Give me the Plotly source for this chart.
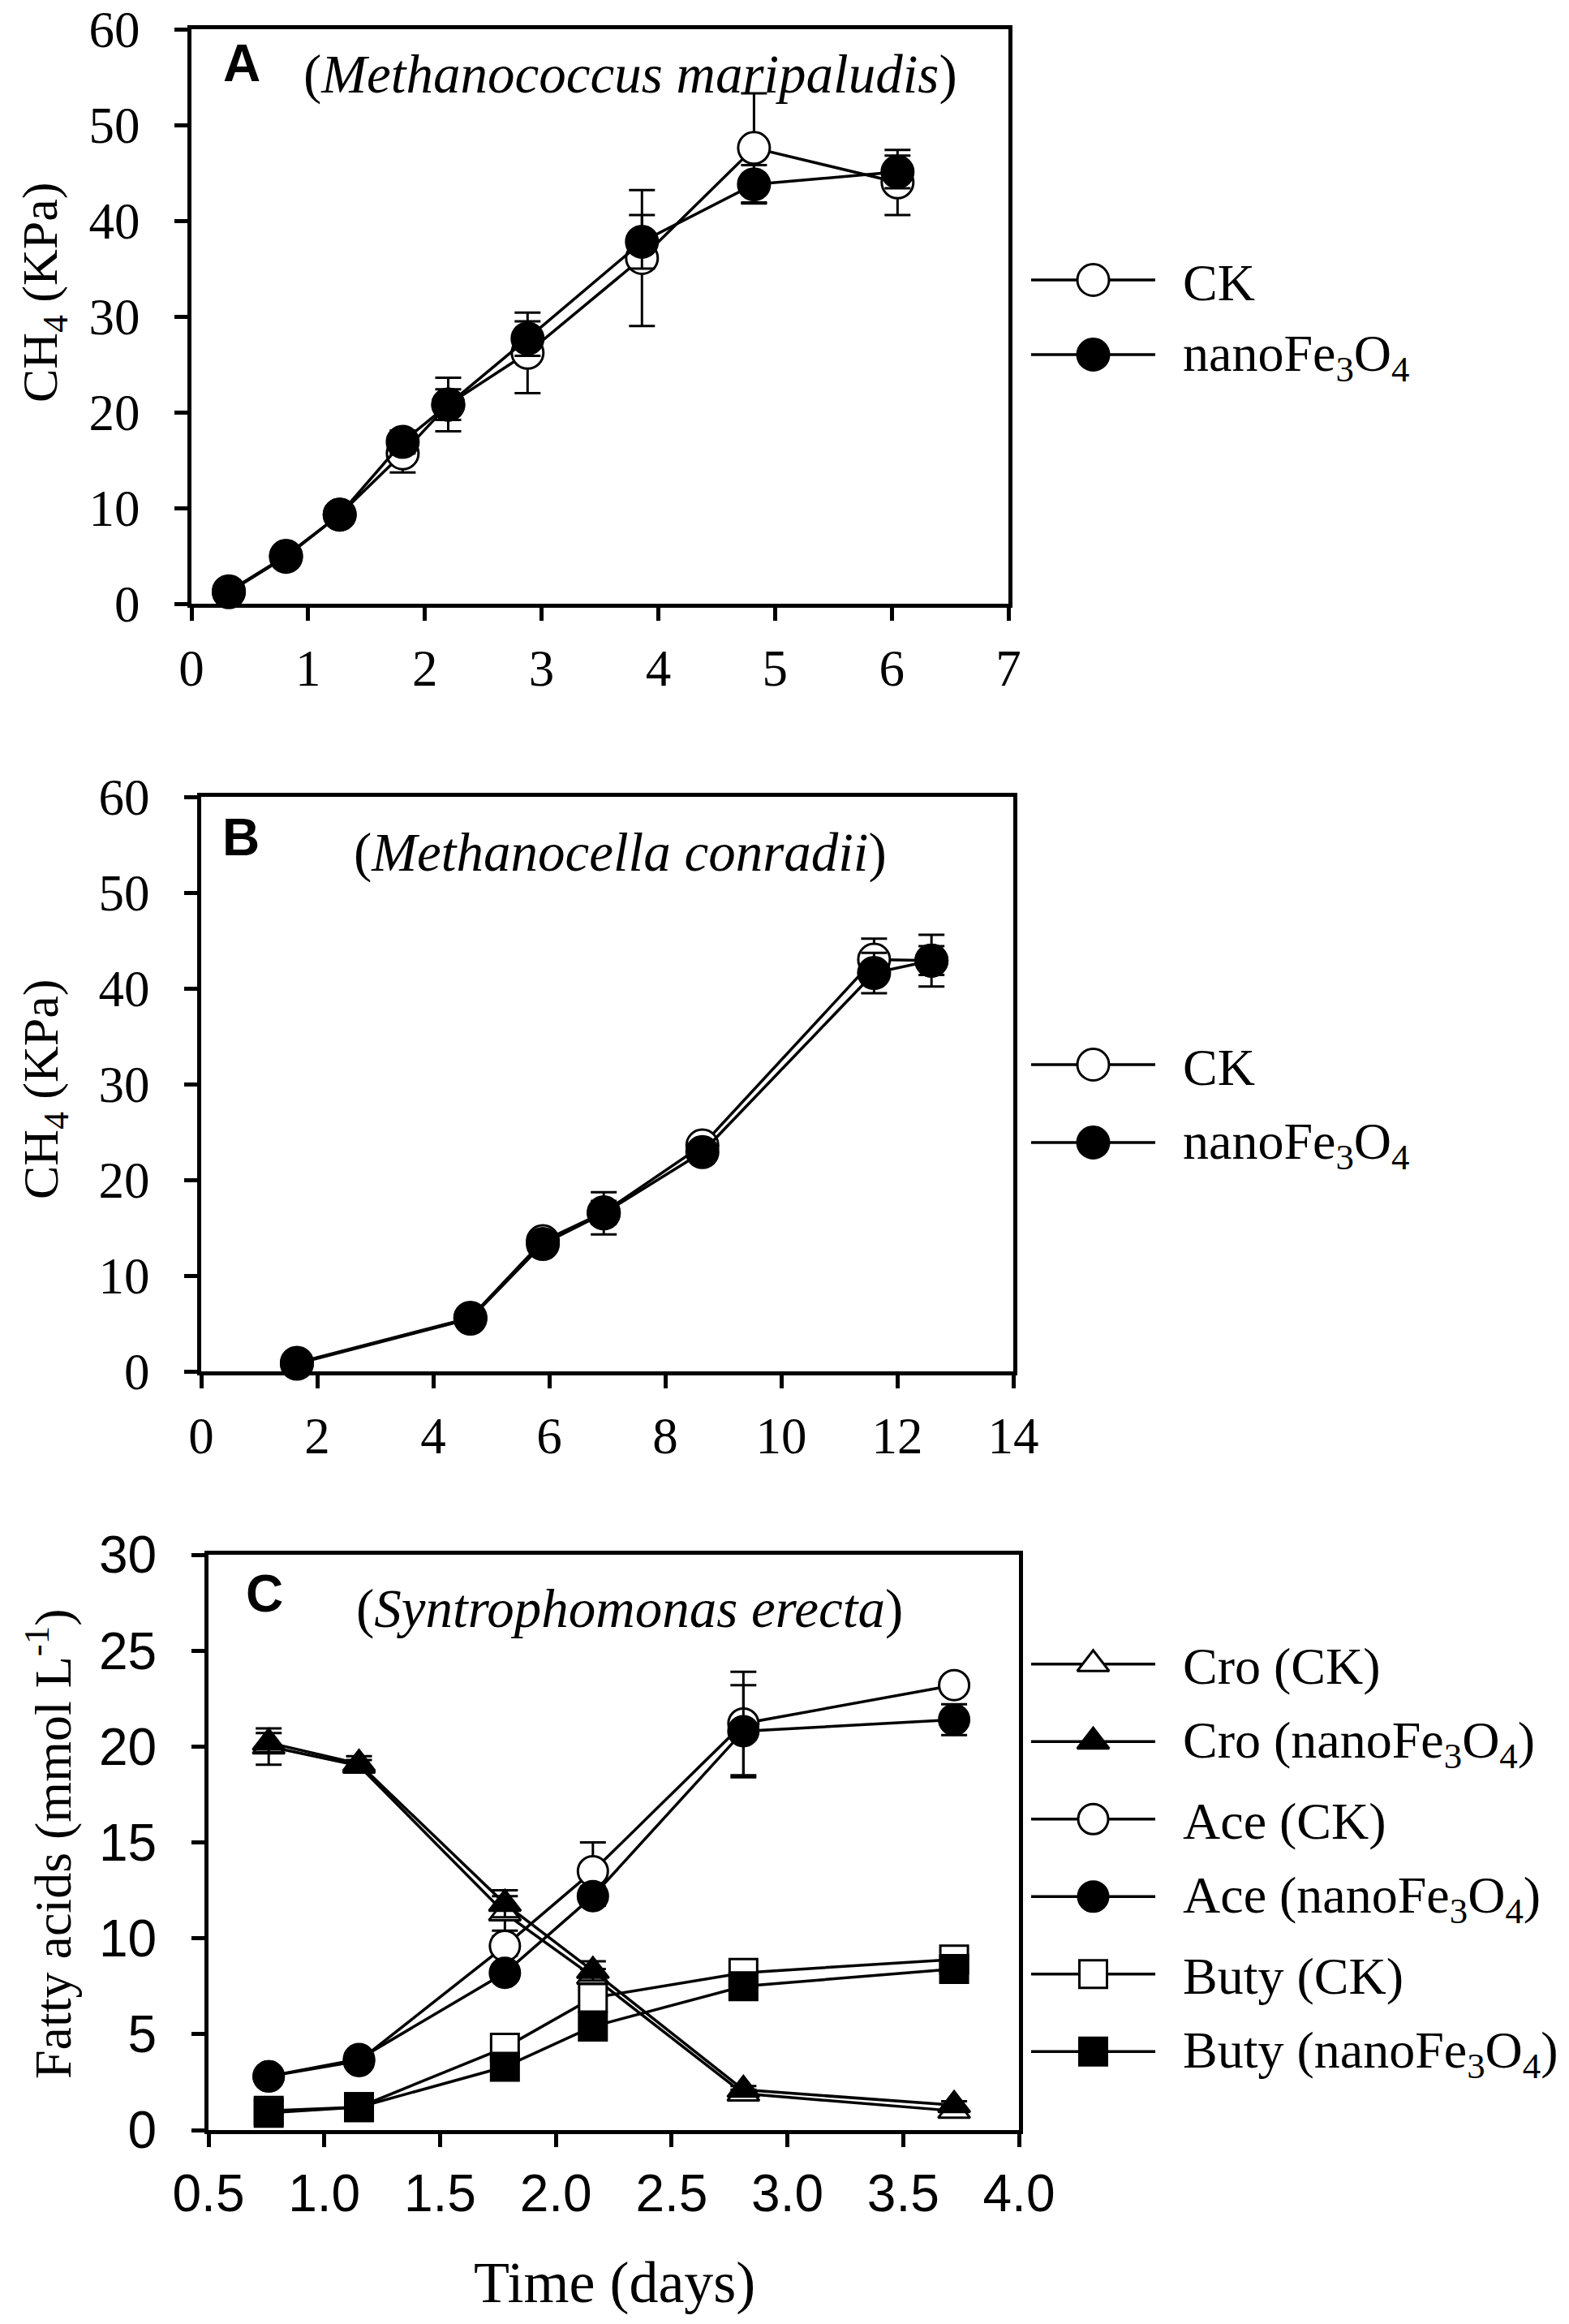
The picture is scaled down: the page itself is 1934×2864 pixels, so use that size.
import plotly.graph_objects as go

W, H = 1934, 2864
SERIF = "Liberation Serif"
SANS = "Liberation Sans"
NANO = "nanoFe<sub>3</sub>O<sub>4</sub>"

# panel A, Methanococcus maripaludis, CH4 (KPa)
a_days = [0.32, 0.81, 1.27, 1.81, 2.20, 2.88, 3.86, 4.82, 6.05]
a_ck = [1.2, 4.9, 9.3, 15.7, 20.8, 26.2, 36.1, 47.6, 44.0]
a_ck_err = [0.3, 0.4, 0.6, 2.0, 2.8, 4.2, 7.1, 5.7, 3.4]
a_nano = [1.3, 5.0, 9.3, 16.9, 20.8, 27.7, 37.8, 43.8, 45.1]
a_nano_err = [0.3, 0.4, 0.6, 1.2, 1.6, 1.8, 2.8, 2.0, 1.7]

# panel B, Methanocella conradii, CH4 (KPa)
b_days = [1.65, 4.64, 5.89, 6.94, 8.64, 11.6, 12.59]
b_ck = [0.9, 5.6, 13.6, 16.6, 23.6, 43.0, 42.9]
b_ck_err = [0.2, 0.4, 0.8, 1.2, 0.8, 2.2, 2.7]
b_nano = [0.8, 5.5, 13.3, 16.5, 22.9, 41.6, 42.9]
b_nano_err = [0.2, 0.4, 0.6, 2.2, 0.6, 2.1, 1.5]

# panel C, Syntrophomonas erecta, fatty acids (mmol/L)
c_days = [0.76, 1.15, 1.78, 2.16, 2.81, 3.72]
cro_ck = [20.0, 19.0, 11.3, 8.0, 1.9, 1.0]
cro_ck_err = [0.95, 0.3, 0.9, 0.4, 0.2, 0.2]
cro_nano = [20.2, 19.1, 11.8, 8.3, 2.1, 1.3]
cro_nano_err = [0.5, 0.4, 0.7, 0.5, 0.2, 0.2]
ace_ck = [2.8, 3.6, 9.6, 13.5, 21.2, 23.2]
ace_ck_err = [0.2, 0.2, 0.5, 1.5, 2.7, 0.3]
ace_nano = [2.8, 3.7, 8.2, 12.2, 20.8, 21.4]
ace_nano_err = [0.2, 0.2, 0.4, 0.5, 2.4, 0.8]
buty_ck = [1.0, 1.2, 4.3, 6.9, 8.2, 8.9]
buty_ck_err = [0.2, 0.2, 0.3, 0.3, 0.3, 0.3]
buty_nano = [0.9, 1.2, 3.3, 5.4, 7.5, 8.4]
buty_nano_err = [0.2, 0.2, 0.3, 0.3, 0.3, 0.3]

ab_labels = ["CK", NANO]
c_labels = ["Cro (CK)", f"Cro ({NANO})", "Ace (CK)", f"Ace ({NANO})",
            "Buty (CK)", f"Buty ({NANO})"]


def px_x(a, b):
    return [a / W, b / W]


def px_y(top, bottom):
    return [1 - bottom / H, 1 - top / H]


def marker(symbol, filled, size):
    return dict(symbol=symbol, size=size, color="black" if filled else "white",
                line=dict(color="black", width=3))


def series(x, y, err, symbol, filled, size, xa, ya):
    return go.Scatter(
        x=x, y=y, mode="lines+markers", xaxis=xa, yaxis=ya,
        line=dict(color="black", width=3.5),
        marker=marker(symbol, filled, size),
        error_y=dict(type="data", array=err, color="black", thickness=3, width=16),
        showlegend=False, cliponaxis=False,
    )


fig = go.Figure()

fig.add_trace(series(a_days, a_ck, a_ck_err, "circle", False, 39, "x", "y"))
fig.add_trace(series(a_days, a_nano, a_nano_err, "circle", True, 39, "x", "y"))
fig.add_trace(series(b_days, b_ck, b_ck_err, "circle", False, 39, "x2", "y2"))
fig.add_trace(series(b_days, b_nano, b_nano_err, "circle", True, 39, "x2", "y2"))

c_series = [
    (cro_ck, cro_ck_err, "triangle-up", False, 34),
    (cro_nano, cro_nano_err, "triangle-up", True, 34),
    (ace_ck, ace_ck_err, "circle", False, 37),
    (ace_nano, ace_nano_err, "circle", True, 37),
    (buty_ck, buty_ck_err, "square", False, 34),
    (buty_nano, buty_nano_err, "square", True, 34),
]
for y, err, sym, filled, size in c_series:
    fig.add_trace(series(c_days, y, err, sym, filled, size, "x3", "y3"))


def add_legend(xa, ya, labels, styles):
    for i, (label, (sym, filled, size)) in enumerate(zip(labels, styles)):
        fig.add_trace(go.Scatter(x=[0, 1], y=[i, i], mode="lines", xaxis=xa, yaxis=ya,
                                 line=dict(color="black", width=3.5),
                                 showlegend=False, hoverinfo="skip"))
        fig.add_trace(go.Scatter(x=[0.5], y=[i], mode="markers", xaxis=xa, yaxis=ya,
                                 marker=marker(sym, filled, size),
                                 showlegend=False, hoverinfo="skip"))
        fig.add_annotation(x=1, y=i, xref=xa, yref=ya, text=label, showarrow=False,
                           xanchor="left", xshift=32, yshift=-3,
                           font=dict(family=SERIF, size=64, color="black"))


ab_styles = [("circle", False, 39), ("circle", True, 39)]
add_legend("x4", "y4", ab_labels, ab_styles)
add_legend("x5", "y5", ab_labels, ab_styles)
add_legend("x6", "y6", c_labels, [(s, f, z) for _, _, s, f, z in c_series])

axis_style = dict(
    showline=True, linecolor="black", linewidth=5, mirror=True,
    ticks="outside", ticklen=16, tickwidth=5, tickcolor="black",
    showgrid=False, zeroline=False, fixedrange=True, automargin=False,
    ticklabeloverflow="allow",
)
serif_ticks = dict(family=SERIF, size=63, color="black")
sans_ticks = dict(family=SANS, size=64, color="black")
hidden = dict(visible=False, fixedrange=True, automargin=False)

fig.update_layout(
    width=W, height=H, margin=dict(l=0, r=0, t=0, b=0, autoexpand=False),
    plot_bgcolor="white", paper_bgcolor="white",
    xaxis=dict(axis_style, domain=px_x(228, 1235), range=[0, 7], dtick=1,
               tickfont=serif_ticks, ticklabelstandoff=4, anchor="y"),
    yaxis=dict(axis_style, domain=px_y(28, 736), range=[0, 60], dtick=10,
               tickfont=serif_ticks, ticklabelstandoff=30, anchor="x"),
    xaxis2=dict(axis_style, domain=px_x(240, 1241), range=[0, 14], dtick=2,
                tickfont=serif_ticks, ticklabelstandoff=4, anchor="y2"),
    yaxis2=dict(axis_style, domain=px_y(974, 1682), range=[0, 60], dtick=10,
                tickfont=serif_ticks, ticklabelstandoff=30, anchor="x2"),
    xaxis3=dict(axis_style, domain=px_x(249, 1248), range=[0.5, 4.0], dtick=0.5,
                tickformat=".1f", tickfont=sans_ticks, ticklabelstandoff=2,
                anchor="y3"),
    yaxis3=dict(axis_style, domain=px_y(1908, 2617), range=[0, 30], dtick=5,
                tickfont=sans_ticks, ticklabelstandoff=30, anchor="x3"),
    xaxis4=dict(hidden, domain=px_x(1263, 1416), range=[0, 1], anchor="y4"),
    yaxis4=dict(hidden, domain=px_y(291, 475), range=[1.5, -0.5], anchor="x4"),
    xaxis5=dict(hidden, domain=px_x(1263, 1416), range=[0, 1], anchor="y5"),
    yaxis5=dict(hidden, domain=px_y(1256, 1448), range=[1.5, -0.5], anchor="x5"),
    xaxis6=dict(hidden, domain=px_x(1263, 1416), range=[0, 1], anchor="y6"),
    yaxis6=dict(hidden, domain=px_y(1995, 2568), range=[5.5, -0.5], anchor="x6"),
)

# panel letters and organism names
panels = [
    ("x", "y", "A", 0.037, 0.940, "Methanococcus maripaludis", 0.537, 0.921),
    ("x2", "y2", "B", 0.024, 0.930, "Methanocella conradii", 0.516, 0.903),
    ("x3", "y3", "C", 0.044, 0.933, "Syntrophomonas erecta", 0.52, 0.906),
]
for xa, ya, letter, lx, ly, name, nx, ny in panels:
    fig.add_annotation(x=lx, y=ly, xref=f"{xa} domain", yref=f"{ya} domain",
                       text=f"<b>{letter}</b>", showarrow=False,
                       xanchor="left", yanchor="middle",
                       font=dict(family=SANS, size=64, color="black"))
    fig.add_annotation(x=nx, y=ny, xref=f"{xa} domain", yref=f"{ya} domain",
                       text=f"(<i>{name}</i>)", showarrow=False,
                       xanchor="center", yanchor="middle",
                       font=dict(family=SERIF, size=67, color="black"))

# axis titles
titles = [
    ("CH<sub>4</sub> (KPa)", 46, 353, 62, -90),
    ("CH<sub>4</sub> (KPa)", 46, 1335, 62, -90),
    ("Fatty acids (mmol L<sup>-1</sup>)", 52, 2265, 64, -90),
    ("Time (days)", 749, 2805, 72, 0),
]
for text, tx, ty, size, angle in titles:
    fig.add_annotation(x=tx / W, y=1 - ty / H, xref="paper", yref="paper",
                       text=text, showarrow=False, textangle=angle,
                       xanchor="center", yanchor="middle",
                       font=dict(family=SERIF, size=size, color="black"))

fig.write_html("out.html")
